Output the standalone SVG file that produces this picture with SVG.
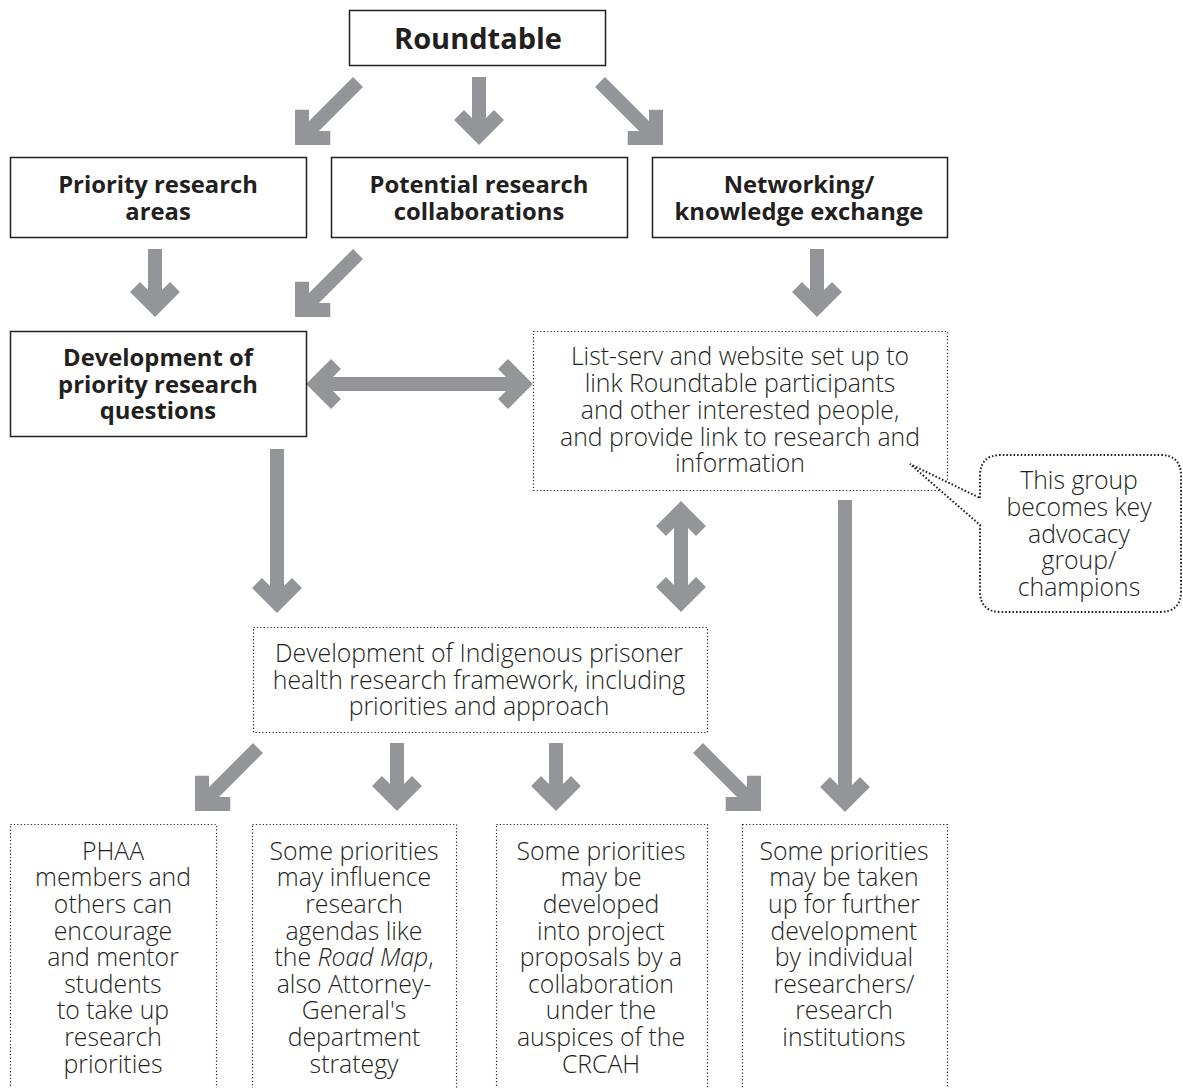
<svg xmlns="http://www.w3.org/2000/svg" width="1183" height="1088" viewBox="0 0 1183 1088">
<style>
.solid{fill:#fff;stroke:#231f20;stroke-width:1.5}
.dot{fill:#fff;stroke:#231f20;stroke-width:1.2;stroke-dasharray:1.2 2.2}
.call{fill:#fff;stroke:#231f20;stroke-width:2;stroke-dasharray:1.6 2}
.bt{font-family:'Open Sans','DejaVu Sans',sans-serif;font-weight:700;font-size:23.8px;fill:#231f20;text-anchor:middle}
.lt{font-family:'Open Sans','DejaVu Sans',sans-serif;font-weight:300;font-size:24.8px;fill:#231f20;text-anchor:middle}
.ar{stroke:#939598;stroke-width:14;fill:none}
</style>
<defs>
<marker id="ah" markerUnits="userSpaceOnUse" viewBox="-35 -35 50 70" markerWidth="50" markerHeight="70" refX="0" refY="0" orient="auto-start-reverse" overflow="visible">
<path d="M-20,-20 L0,0 L-20,20" fill="none" stroke="#939598" stroke-width="14" stroke-linejoin="miter" stroke-miterlimit="10"/>
</marker>
</defs>
<g id="connectors">
<line class="ar" x1="479" y1="77" x2="479" y2="135" marker-end="url(#ah)"/>
<line class="ar" x1="358" y1="82" x2="302" y2="138" marker-end="url(#ah)"/>
<line class="ar" x1="600" y1="82" x2="656" y2="138" marker-end="url(#ah)"/>
<line class="ar" x1="155" y1="249" x2="155" y2="307" marker-end="url(#ah)"/>
<line class="ar" x1="358" y1="254" x2="302" y2="310" marker-end="url(#ah)"/>
<line class="ar" x1="817" y1="249" x2="817" y2="307" marker-end="url(#ah)"/>
<line class="ar" x1="316" y1="384" x2="523" y2="384" marker-start="url(#ah)" marker-end="url(#ah)"/>
<line class="ar" x1="277" y1="449" x2="277" y2="603" marker-end="url(#ah)"/>
<line class="ar" x1="681" y1="511" x2="681" y2="602" marker-start="url(#ah)" marker-end="url(#ah)"/>
<line class="ar" x1="845" y1="500" x2="845" y2="802" marker-end="url(#ah)"/>
<line class="ar" x1="258" y1="748" x2="202" y2="804" marker-end="url(#ah)"/>
<line class="ar" x1="397" y1="743" x2="397" y2="801" marker-end="url(#ah)"/>
<line class="ar" x1="556" y1="743" x2="556" y2="801" marker-end="url(#ah)"/>
<line class="ar" x1="698" y1="748" x2="754" y2="804" marker-end="url(#ah)"/>
</g>
<g id="roundtable">
<rect class="solid" x="349.5" y="10.5" width="256" height="55"/>
<text class="bt" x="478" y="49" style="font-size:29px">Roundtable</text>
</g>
<g id="priority-areas">
<rect class="solid" x="10.5" y="157.5" width="296" height="80"/>
<text class="bt" x="158" y="193">Priority research</text>
<text class="bt" x="158" y="220">areas</text>
</g>
<g id="potential-collab">
<rect class="solid" x="331.5" y="157.5" width="296" height="80"/>
<text class="bt" x="479" y="193">Potential research</text>
<text class="bt" x="479" y="220">collaborations</text>
</g>
<g id="networking">
<rect class="solid" x="652.5" y="157.5" width="295" height="80"/>
<text class="bt" x="799" y="193">Networking/</text>
<text class="bt" x="799" y="220">knowledge exchange</text>
</g>
<g id="dev-questions">
<rect class="solid" x="10.5" y="331.5" width="296" height="105"/>
<text class="bt" x="158" y="366">Development of</text>
<text class="bt" x="158" y="393">priority research</text>
<text class="bt" x="158" y="419">questions</text>
</g>
<g id="listserv">
<rect class="dot" x="533.5" y="331.5" width="414" height="159"/>
<text class="lt" x="740" y="365">List-serv and website set up to</text>
<text class="lt" x="740" y="392">link Roundtable participants</text>
<text class="lt" x="740" y="419">and other interested people,</text>
<text class="lt" x="740" y="446">and provide link to research and</text>
<text class="lt" x="740" y="472">information</text>
</g>
<g id="callout">
<path class="call" d="M980,498 L980,476 Q980,455 1001,455 L1160,455 Q1181,455 1181,476 L1181,591 Q1181,612 1160,612 L1001,612 Q980,612 980,591 L980,525 L910,464 Z"/>
<text class="lt" x="1079" y="489">This group</text>
<text class="lt" x="1079" y="516">becomes key</text>
<text class="lt" x="1079" y="543">advocacy</text>
<text class="lt" x="1079" y="569">group/</text>
<text class="lt" x="1079" y="596">champions</text>
</g>
<g id="framework">
<rect class="dot" x="253.5" y="627.5" width="454" height="105"/>
<text class="lt" x="479" y="662">Development of Indigenous prisoner</text>
<text class="lt" x="479" y="689">health research framework, including</text>
<text class="lt" x="479" y="715">priorities and approach</text>
</g>
<g id="phaa">
<rect class="dot" x="10.5" y="824.5" width="206" height="280"/>
<text class="lt" x="113" y="860">PHAA</text>
<text class="lt" x="113" y="886">members and</text>
<text class="lt" x="113" y="913">others can</text>
<text class="lt" x="113" y="940">encourage</text>
<text class="lt" x="113" y="966">and mentor</text>
<text class="lt" x="113" y="993">students</text>
<text class="lt" x="113" y="1019">to take up</text>
<text class="lt" x="113" y="1046">research</text>
<text class="lt" x="113" y="1073">priorities</text>
</g>
<g id="agendas">
<rect class="dot" x="252.5" y="824.5" width="204" height="280"/>
<text class="lt" x="354" y="860">Some priorities</text>
<text class="lt" x="354" y="886">may influence</text>
<text class="lt" x="354" y="913">research</text>
<text class="lt" x="354" y="940">agendas like</text>
<text class="lt" x="354" y="966">the <tspan font-style="italic">Road Map</tspan>,</text>
<text class="lt" x="354" y="993">also Attorney-</text>
<text class="lt" x="354" y="1019">General's</text>
<text class="lt" x="354" y="1046">department</text>
<text class="lt" x="354" y="1073">strategy</text>
</g>
<g id="proposals">
<rect class="dot" x="496.5" y="824.5" width="211" height="280"/>
<text class="lt" x="601" y="860">Some priorities</text>
<text class="lt" x="601" y="886">may be</text>
<text class="lt" x="601" y="913">developed</text>
<text class="lt" x="601" y="940">into project</text>
<text class="lt" x="601" y="966">proposals by a</text>
<text class="lt" x="601" y="993">collaboration</text>
<text class="lt" x="601" y="1019">under the</text>
<text class="lt" x="601" y="1046">auspices of the</text>
<text class="lt" x="601" y="1073">CRCAH</text>
</g>
<g id="researchers">
<rect class="dot" x="742.5" y="824.5" width="205" height="280"/>
<text class="lt" x="844" y="860">Some priorities</text>
<text class="lt" x="844" y="886">may be taken</text>
<text class="lt" x="844" y="913">up for further</text>
<text class="lt" x="844" y="940">development</text>
<text class="lt" x="844" y="966">by individual</text>
<text class="lt" x="844" y="993">researchers/</text>
<text class="lt" x="844" y="1019">research</text>
<text class="lt" x="844" y="1046">institutions</text>
</g>
</svg>
